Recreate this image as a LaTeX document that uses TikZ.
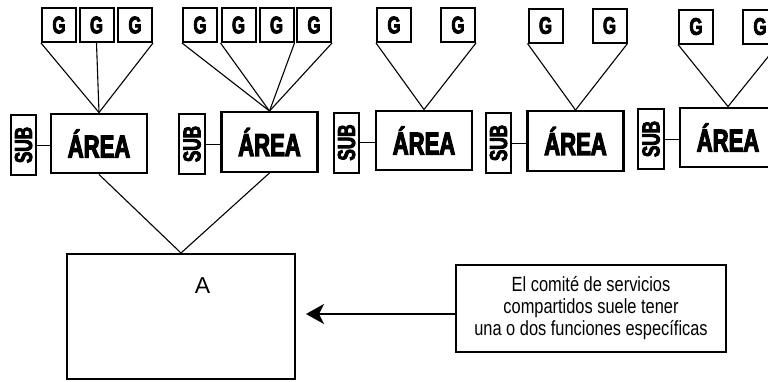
\documentclass[tikz,border=0pt]{standalone}
\usepackage{fontspec}
\usepackage{graphicx}
\usetikzlibrary{arrows.meta}
\setmainfont{Liberation Sans}
\newfontfamily\heavyfont[FakeStretch=0.7,FakeBold=3.5]{Liberation Sans}
\newfontfamily\condfont[FakeStretch=0.8]{Liberation Sans}
\begin{document}
\begin{tikzpicture}[x=1pt,y=-1pt,
  gbox/.style={draw, line width=2pt, minimum width=34pt, minimum height=34pt, inner sep=0pt,
    font=\heavyfont\bfseries\fontsize{24}{24}\selectfont},
  areabox/.style={draw, line width=2.4pt, minimum width=96pt, minimum height=59.5pt, inner sep=0pt,
    font=\heavyfont\bfseries\fontsize{31.5}{31.5}\selectfont},
  subbox/.style={draw, line width=2pt, minimum width=25.5pt, minimum height=60pt, inner sep=0pt,
    font=\heavyfont\bfseries\fontsize{24.5}{24.5}\selectfont},
  bigbox/.style={draw, line width=2pt, minimum width=228pt, minimum height=125pt, inner sep=0pt},
  notebox/.style={draw, line width=2pt, minimum width=270pt, minimum height=87pt, inner sep=0pt,
    align=center, font=\condfont\fontsize{20.5}{22}\selectfont},
  link/.style={line width=1.1pt},
  sublink/.style={line width=1pt}
]
\useasboundingbox (0,0) rectangle (768,381);
\clip (0,0) rectangle (768,381);

% ---- group 1
\node[gbox] (g11) at (59,25) {G};
\node[gbox] (g12) at (96.5,25) {G};
\node[gbox] (g13) at (135,25) {G};
\node[areabox] (a1) at (99,143.5) {ÁREA};
\node[subbox] (s1) at (23.5,145) {\rotatebox{90}{SUB}};
% ---- group 2
\node[gbox] (g21) at (200,25) {G};
\node[gbox] (g22) at (238.5,25) {G};
\node[gbox] (g23) at (276.5,25) {G};
\node[gbox] (g24) at (314,25) {G};
\node[areabox] (a2) at (269.5,142) {ÁREA};
\node[subbox] (s2) at (192,144) {\rotatebox{90}{SUB}};
% ---- group 3
\node[gbox] (g31) at (394,25) {G};
\node[gbox] (g32) at (458,25) {G};
\node[areabox] (a3) at (424,140.5) {ÁREA};
\node[subbox] (s3) at (346.5,142.5) {\rotatebox{90}{SUB}};
% ---- group 4
\node[gbox] (g41) at (545.5,25.5) {G};
\node[gbox] (g42) at (609.5,25.5) {G};
\node[areabox] (a4) at (575.5,141) {ÁREA};
\node[subbox] (s4) at (498.5,143) {\rotatebox{90}{SUB}};
% ---- group 5
\node[gbox] (g51) at (696,26.5) {G};
\node[gbox] (g52) at (760,26.5) {G};
\node[areabox] (a5) at (728,137.5) {ÁREA};
\node[subbox] (s5) at (651,139) {\rotatebox{90}{SUB}};

% ---- big box and note
\node[bigbox] (bA) at (181,316.5) {};
\node[font=\fontsize{23}{23}\selectfont, inner sep=0pt] (lA) at ([xshift=21.5pt,yshift=31pt]bA.center) {A};
\node[notebox] (note) at (591,308.5) {El comité de servicios\\compartidos suele tener\\una o dos funciones específicas};

% ---- connectors G -> AREA
\draw[link] (g11.south west) -- (a1.north);
\draw[link] (g12.south) -- (a1.north);
\draw[link] (g13.south east) -- (a1.north);
\draw[link] (g21.south west) -- (a2.north);
\draw[link] (g22.south west) -- (a2.north);
\draw[link] (g23.south east) -- (a2.north);
\draw[link] (g24.south east) -- (a2.north);
\draw[link] (g31.south west) -- (a3.north);
\draw[link] (g32.south east) -- (a3.north);
\draw[link] (g41.south west) -- (a4.north);
\draw[link] (g42.south east) -- (a4.north);
\draw[link] (g51.south west) -- (a5.north);
\draw[link] (g52.south east) -- (a5.north);

% ---- SUB -- AREA
\foreach \i in {1,...,5}{
  \draw[sublink] (s\i.east) -- (s\i.east -| a\i.west);
}

% ---- AREA -> A
\draw[link] (a1.south) -- (bA.north);
\draw[link] (a2.south) -- (bA.north);

% ---- arrow
\draw[line width=2pt, -{Stealth[length=18pt, width=20pt, inset=5pt]}]
  ([yshift=-5.5pt]note.west) -- ([xshift=10pt,yshift=2.5pt]bA.east);
\end{tikzpicture}
\end{document}
